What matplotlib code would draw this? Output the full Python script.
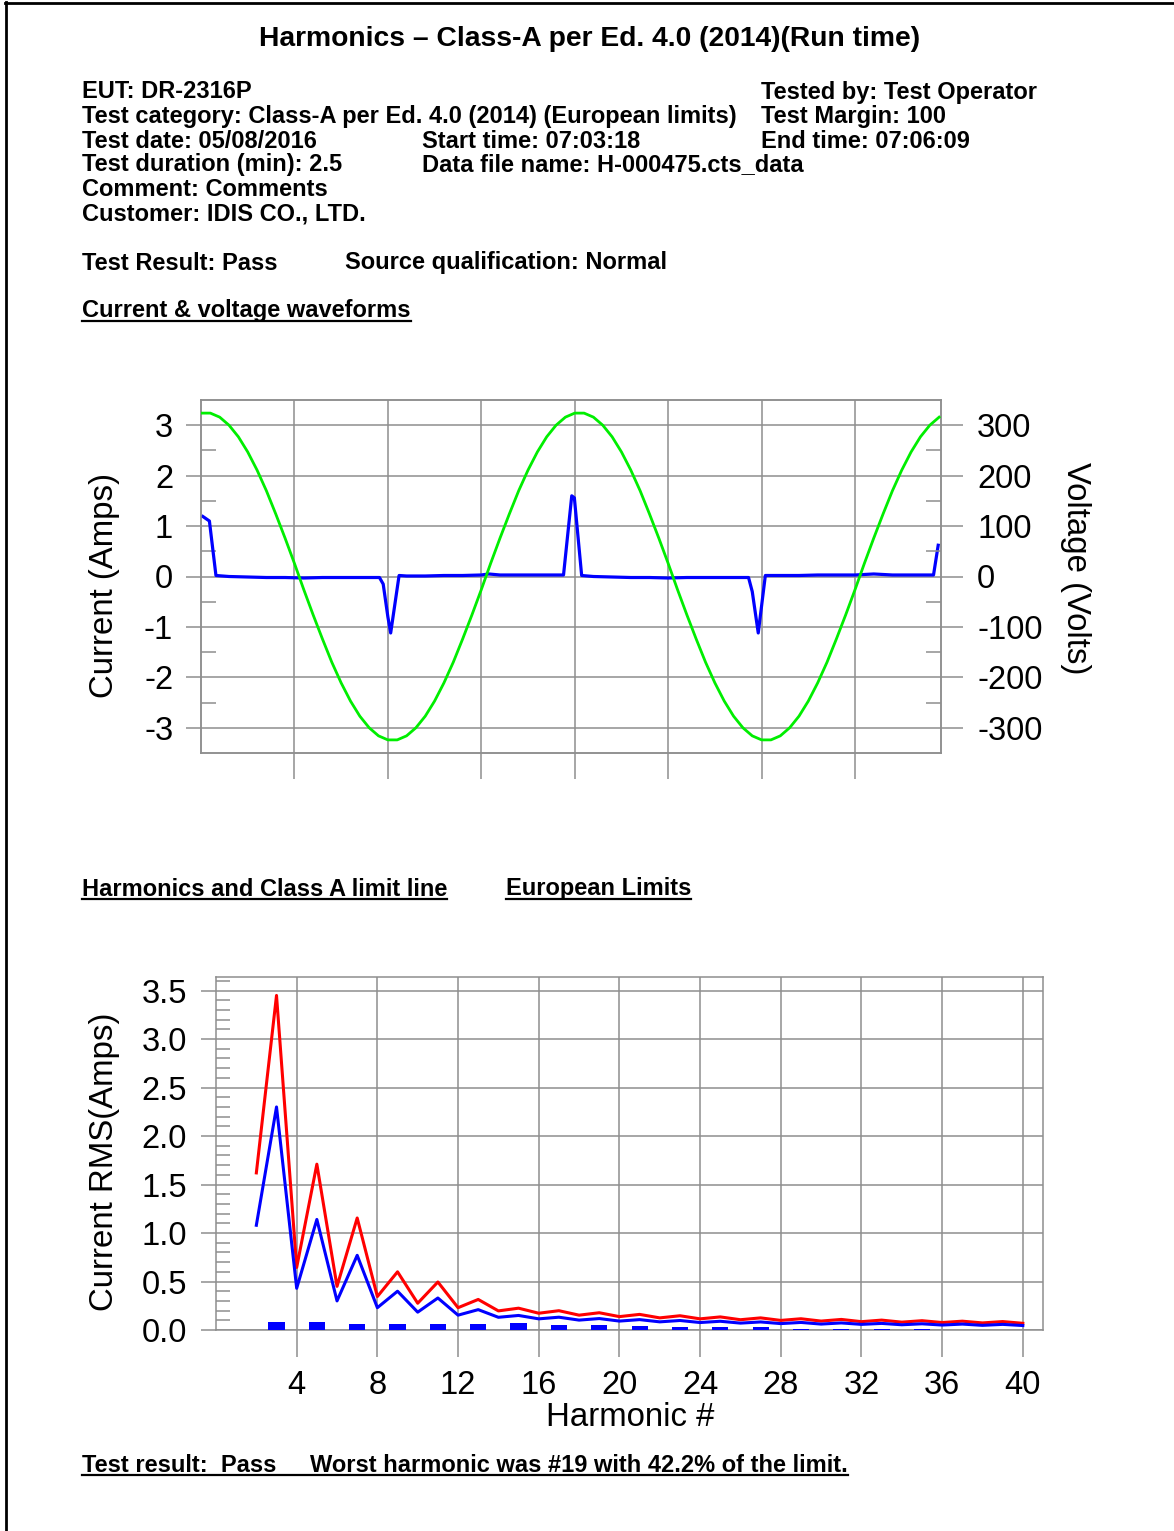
import numpy as np
import matplotlib
matplotlib.use("Agg")
import matplotlib.pyplot as plt
from matplotlib.lines import Line2D

plt.rcParams["font.family"] = ["Liberation Sans", "DejaVu Sans"]
plt.rcParams["axes.unicode_minus"] = False

W, H = 1174, 1531

# ---------------- data ----------------
# Current waveform (A) sampled at irregular instants (ms)
t_current = [0.1, 0.45, 0.8, 1.5, 2.5, 3.5, 4.5, 5.5, 6.5, 7.5, 8.5, 9.55, 9.75,
             10.0, 10.15, 10.6, 11.0, 12.0, 13.0, 14.0, 15.0, 15.4, 16.0, 17.0,
             18.0, 19.0, 19.4, 19.84, 19.98, 20.37, 21.0, 22.0, 23.0, 24.0, 25.0,
             26.0, 27.0, 28.0, 29.3, 29.5, 29.82, 30.2, 31.0, 32.0, 33.0, 34.0,
             35.0, 36.0, 37.0, 38.0, 39.2, 39.45]
i_current = [1.19, 1.1, 0.02, 0.0, -0.01, -0.02, -0.02, -0.03, -0.02, -0.02, -0.02,
             -0.02, -0.15, -0.8, -1.12, 0.02, 0.01, 0.01, 0.02, 0.02, 0.03, 0.05,
             0.03, 0.03, 0.03, 0.03, 0.03, 1.6, 1.56, 0.02, 0.0, -0.01, -0.02,
             -0.02, -0.03, -0.02, -0.02, -0.02, -0.02, -0.3, -1.12, 0.02, 0.02,
             0.02, 0.03, 0.03, 0.03, 0.05, 0.03, 0.03, 0.03, 0.62]

# Voltage waveform (V), one sample every 0.5 ms
t_voltage = np.arange(0, 40, 0.5)
v_voltage = [324, 324, 316, 300, 277, 247, 211, 170, 124, 76, 26, -26, -76, -124,
             -170, -211, -247, -277, -300, -316, -324, -324, -316, -300, -277,
             -247, -211, -170, -124, -76, -26, 26, 76, 124, 170, 211, 247, 277,
             300, 316,
             324, 324, 316, 300, 277, 247, 211, 170, 124, 76, 26, -26, -76, -124,
             -170, -211, -247, -277, -300, -316, -324, -324, -316, -300, -277,
             -247, -211, -170, -124, -76, -26, 26, 76, 124, 170, 211, 247, 277,
             300, 316]

# Harmonic orders and limits (A rms)
orders = np.arange(2, 41)
class_a_limit = [1.08, 2.30, 0.43, 1.14, 0.30, 0.77, 0.23, 0.40, 0.184, 0.33,
                 0.153, 0.21, 0.131, 0.15, 0.115, 0.132, 0.102, 0.118, 0.092,
                 0.107, 0.084, 0.098, 0.077, 0.09, 0.071, 0.083, 0.066, 0.078,
                 0.061, 0.073, 0.058, 0.068, 0.054, 0.064, 0.051, 0.061, 0.048,
                 0.058, 0.046]
limit_150 = [1.62, 3.45, 0.645, 1.71, 0.45, 1.155, 0.345, 0.60, 0.276, 0.495,
             0.23, 0.315, 0.197, 0.225, 0.173, 0.199, 0.153, 0.178, 0.138, 0.161,
             0.125, 0.147, 0.115, 0.135, 0.106, 0.125, 0.099, 0.116, 0.092, 0.109,
             0.086, 0.102, 0.081, 0.096, 0.077, 0.091, 0.073, 0.087, 0.069]

# Measured harmonic currents (A rms)
meas_orders = [3, 5, 7, 9, 11, 13, 15, 17, 19, 21, 23, 25, 27, 29, 31, 33, 35]
meas_values = [0.082, 0.082, 0.065, 0.065, 0.065, 0.065, 0.068, 0.048, 0.0498,
               0.044, 0.034, 0.034, 0.033, 0.014, 0.014, 0.014, 0.014]

wave_yticks = [-3, -2, -1, 0, 1, 2, 3]
volt_yticks = [-300, -200, -100, 0, 100, 200, 300]
harm_xticks = [4, 8, 12, 16, 20, 24, 28, 32, 36, 40]
harm_yticks = [0.0, 0.5, 1.0, 1.5, 2.0, 2.5, 3.0, 3.5]

GRID = "#8e8e8e"
GW = 1.1
TICK_FS = 23.5
LABEL_FS = 23.8
HS = 17


def fx(x):
    return x / W


def fy(y):
    return 1 - y / H


fig = plt.figure(figsize=(W / 100, H / 100), dpi=100)

# page frame (left and top edges)
fig.add_artist(Line2D([fx(6), fx(6)], [0, fy(2)], color="black", lw=2.0))
fig.add_artist(Line2D([fx(5), 1], [fy(3), fy(3)], color="black", lw=2.0))

# ---------------- header text ----------------
fig.text(fx(590), fy(46), "Harmonics \u2013 Class-A per Ed. 4.0 (2014)(Run time)",
         ha="center", va="baseline", fontsize=20.3, fontweight="bold")

rows = [
    (82, 98.5, "EUT: DR-2316P"),
    (761, 98.5, "Tested by: Test Operator"),
    (82, 123, "Test category: Class-A per Ed. 4.0 (2014) (European limits)"),
    (761, 123, "Test Margin: 100"),
    (82, 147.5, "Test date: 05/08/2016"),
    (422, 147.5, "Start time: 07:03:18"),
    (761, 147.5, "End time: 07:06:09"),
    (82, 171.5, "Test duration (min): 2.5"),
    (422, 171.5, "Data file name: H-000475.cts_data"),
    (82, 196, "Comment: Comments"),
    (82, 220.5, "Customer: IDIS CO., LTD."),
    (82, 269.5, "Test Result: Pass"),
    (345, 269.5, "Source qualification: Normal"),
]
for x, y, s in rows:
    fig.text(fx(x), fy(y), s, ha="left", va="baseline", fontsize=HS,
             fontweight="bold")

underlined = []
for x, y, s in [(82, 317, "Current & voltage waveforms"),
                (82, 895.5, "Harmonics and Class A limit line"),
                (506, 895.5, "European Limits")]:
    t = fig.text(fx(x), fy(y), s, ha="left", va="baseline", fontsize=HS,
                 fontweight="bold")
    underlined.append(([t], y))

t1 = fig.text(fx(82), fy(1471.5), "Test result:  Pass", ha="left", va="baseline",
              fontsize=HS, fontweight="bold")
t2 = fig.text(fx(310), fy(1471.5), "Worst harmonic was #19 with 42.2% of the limit.",
              ha="left", va="baseline", fontsize=HS, fontweight="bold")
underlined.append(([t1, t2], 1471.5))

# ---------------- waveform panel ----------------
ax = fig.add_axes([fx(201), fy(753), fx(941) - fx(201), fy(400) - fy(753)])
ax.plot(t_current, i_current, color="#0000ff", lw=2.3, zorder=3)
ax.set_xlim(0, 39.6)
ax.set_ylim(-3.5, 3.5)
ax.set_xticks([5, 10, 15, 20, 25, 30, 35])
ax.set_xticklabels([])
ax.set_yticks(wave_yticks)
ax.set_yticklabels([str(v) for v in wave_yticks])
ax.set_yticks([-2.5, -1.5, -0.5, 0.5, 1.5, 2.5], minor=True)
ax.tick_params(axis="x", which="major", direction="out", length=19, width=GW,
               color=GRID, labelbottom=False)
ax.tick_params(axis="y", which="major", direction="out", length=11, width=GW,
               color=GRID, labelsize=TICK_FS, pad=9)
ax.tick_params(axis="y", which="minor", direction="in", length=11, width=GW,
               color=GRID)
ax.grid(True, which="major", color=GRID, lw=GW)
ax.set_axisbelow(True)
for sp in ax.spines.values():
    sp.set_color(GRID)
    sp.set_linewidth(GW)

ax2 = ax.twinx()
ax2.plot(t_voltage, v_voltage, color="#00ee00", lw=2.0, zorder=3)
ax2.set_ylim(-350, 350)
ax2.set_yticks(volt_yticks)
ax2.set_yticklabels([str(v) for v in volt_yticks])
ax2.set_yticks([-250, -150, -50, 50, 150, 250], minor=True)
ax2.tick_params(axis="y", which="major", direction="out", length=16, width=GW,
                color=GRID, labelsize=TICK_FS, pad=10)
ax2.tick_params(axis="y", which="minor", direction="in", length=11, width=GW,
                color=GRID)
for sp in ax2.spines.values():
    sp.set_color(GRID)
    sp.set_linewidth(GW)

fig.text(fx(105), fy(586), "Current (Amps)", rotation=90, ha="center",
         va="center", fontsize=LABEL_FS)
fig.text(fx(1075), fy(568), "Voltage (Volts)", rotation=270, ha="center",
         va="center", fontsize=LABEL_FS)

# ---------------- harmonics panel ----------------
hx = fig.add_axes([fx(216), fy(1330), fx(1043) - fx(216), fy(977) - fy(1330)])
hx.plot(orders, limit_150, color="#ff0000", lw=2.2, zorder=3)
hx.plot(orders, class_a_limit, color="#0000ff", lw=2.2, zorder=3)
hx.bar(meas_orders, meas_values, width=0.8, color="#0000ff", zorder=4)
hx.set_xlim(0, 41)
hx.set_ylim(0, 3.64)
hx.set_xticks(harm_xticks)
hx.set_xticklabels([str(v) for v in harm_xticks])
hx.set_yticks(harm_yticks)
hx.set_yticklabels([f"{v:.1f}" for v in harm_yticks])
hx.set_yticks([v / 10 for v in range(1, 37) if v % 5], minor=True)
hx.tick_params(axis="x", which="major", direction="out", length=19.5, width=GW,
               color=GRID, labelsize=TICK_FS, pad=9)
hx.tick_params(axis="y", which="major", direction="out", length=11, width=GW,
               color=GRID, labelsize=TICK_FS, pad=10)
hx.tick_params(axis="y", which="minor", direction="in", length=10, width=GW,
               color=GRID)
hx.grid(True, which="major", color=GRID, lw=GW)
hx.set_axisbelow(True)
for sp in hx.spines.values():
    sp.set_color(GRID)
    sp.set_linewidth(GW)

fig.text(fx(105), fy(1162), "Current RMS(Amps)", rotation=90, ha="center",
         va="center", fontsize=LABEL_FS)
fig.text(fx(630), fy(1417), "Harmonic #", ha="center", va="center",
         fontsize=LABEL_FS)

# ---------------- underlines under section headings ----------------
fig.canvas.draw()
renderer = fig.canvas.get_renderer()
for texts, ybase in underlined:
    x0 = min(t.get_window_extent(renderer).x0 for t in texts)
    x1 = max(t.get_window_extent(renderer).x1 for t in texts)
    yy = fy(ybase + 3.5)
    fig.add_artist(Line2D([x0 / W, x1 / W], [yy, yy], color="black", lw=1.6))

fig.savefig("out.png", dpi=100, facecolor="white")
